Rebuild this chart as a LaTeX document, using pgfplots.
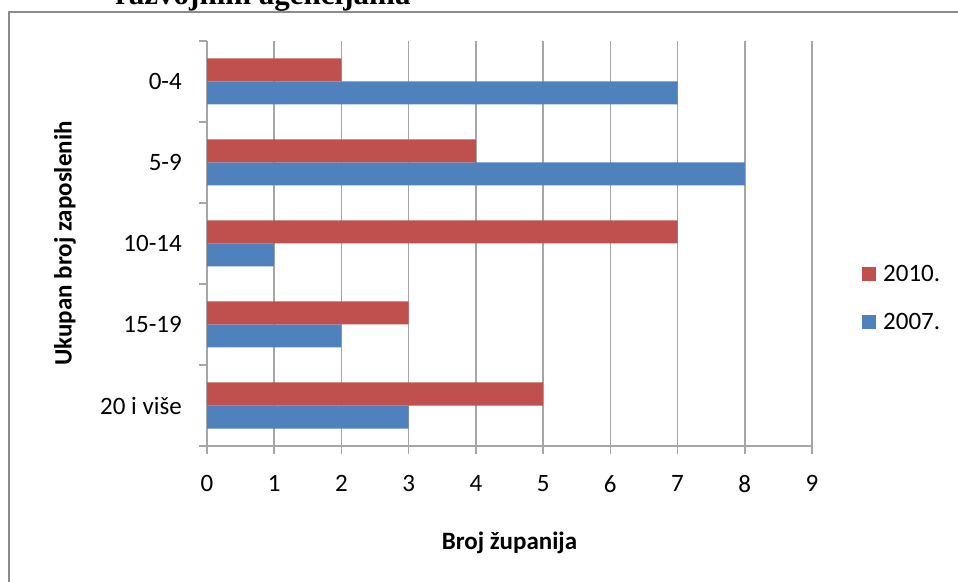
\documentclass[border=0pt]{standalone}
\usepackage{fontspec}
\setmainfont{Carlito}
\newfontfamily\titlefont{Liberation Serif}
\usepackage{pgfplots}
\pgfplotsset{compat=1.18}
\definecolor{xlred}{HTML}{C0504D}
\definecolor{xlblue}{HTML}{4F81BD}
\definecolor{xlgrid}{HTML}{A6A6A6}
\definecolor{xlframe}{HTML}{8C8C8C}
\begin{document}
\begin{tikzpicture}
\useasboundingbox (0,0) rectangle (958pt,581pt);
\draw[xlframe, line width=2pt] (9pt,-20pt) -- (9pt,569pt) -- (980pt,569pt);
\node[anchor=base west, inner sep=0pt, font=\titlefont\bfseries\fontsize{31}{36}\selectfont] at (115pt,576pt) {razvojnim agencijama};
\begin{axis}[
  at={(207pt,135pt)}, anchor=south west,
  scale only axis, width=605pt, height=405pt,
  xbar=0pt, bar width=23pt,
  xmin=0, xmax=9, ymin=-0.5, ymax=4.5,
  axis x line*=bottom, axis y line*=left,
  axis line style={draw=xlgrid, line width=1.5pt, -},
  xtick={0,...,9},
  xmajorgrids,
  grid style={draw=xlgrid, line width=1.5pt},
  tick align=outside,
  major tick length=8pt,
  tick style={draw=xlgrid, line width=1.5pt},
  ytick={-0.5,0.5,...,4.5},
  yticklabels={},
  extra y ticks={0,1,2,3,4},
  extra y tick labels={20 i više,15-19,10-14,5-9,0-4},
  extra y tick style={major tick length=0pt, tick style={draw=none}, grid=none,
    yticklabel style={inner sep=0pt, xshift=-25pt}},
  ticklabel style={font=\fontsize{25}{30}\selectfont, text=black},
  /pgf/number format/assume math mode=true,
  xticklabel style={yshift=-18pt},
  xlabel={Broj županija},
  ylabel={Ukupan broj zaposlenih},
  label style={font=\bfseries\fontsize{25}{30}\selectfont},
  x label style={at={(axis description cs:0.5,0)}, anchor=center, yshift=-97pt},
  y label style={at={(axis description cs:0,0.5)}, anchor=center, rotate=0, yshift=142pt},
  legend image code/.code={\fill[#1] (0pt,-7pt) rectangle (14pt,7pt);},
  reverse legend,
  legend style={at={(1.0826,0.3654)}, anchor=west, draw=none, fill=none,
    inner sep=0pt, column sep=7pt,
    font=\fontsize{25}{30}\selectfont,
    nodes={inner sep=0pt, minimum height=48pt, anchor=west}},
  legend cell align=left,
]
\addplot[draw=none, fill=xlblue] coordinates {(3,0) (2,1) (1,2) (8,3) (7,4)};
\addplot[draw=none, fill=xlred] coordinates {(5,0) (3,1) (7,2) (4,3) (2,4)};
\legend{2007.,2010.}
\end{axis}
\end{tikzpicture}
\end{document}
